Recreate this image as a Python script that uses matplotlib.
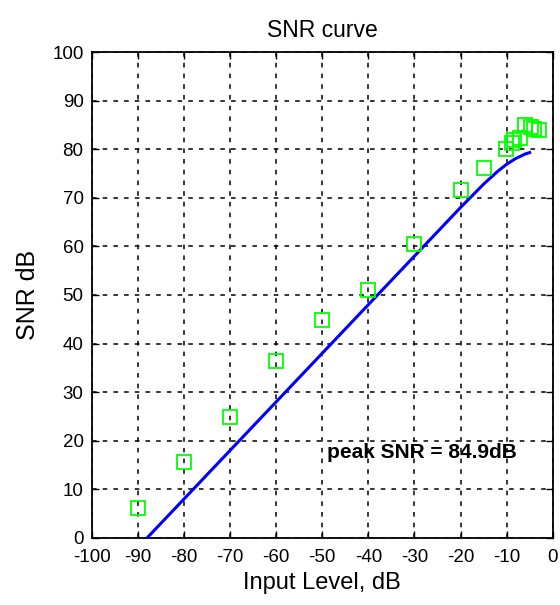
import numpy as np
import matplotlib
matplotlib.use("Agg")
import matplotlib.pyplot as plt

plt.rcParams['font.family'] = ['Liberation Sans', 'DejaVu Sans']
plt.rcParams['axes.unicode_minus'] = False

# measured SNR (green squares)
meas_x = [-90, -80, -70, -60, -50, -40, -30, -20, -15,
          -10.1, -8.9, -8.3, -7.0, -6.0, -4.7, -4.0, -2.9]
meas_y = [6.2, 15.6, 24.9, 36.4, 44.9, 51.0, 60.5, 71.6, 76.1,
          80.0, 81.2, 81.8, 82.3, 84.9, 84.6, 84.1, 83.9]

# theoretical SNR curve (blue line)
curve_x = [-88, -80, -70, -60, -50, -40, -30, -20, -15, -12, -10, -8, -6, -5]
curve_y = [0, 8, 18, 28, 38, 48, 58, 68, 72.8, 75.4, 76.9, 78.1, 79.0, 79.3]

xticks = list(range(-100, 1, 10))
yticks = list(range(0, 101, 10))
peak_label = 'peak SNR = 84.9dB'

fig = plt.figure(figsize=(5.6, 6.05), dpi=100)
ax = fig.add_axes([0.164, 0.111, 0.823, 0.803])

ax.plot(curve_x, curve_y, color='#0000ff', lw=2.2, zorder=3)
ax.plot(meas_x, meas_y, linestyle='none', marker='s', markersize=9.5,
        markerfacecolor='none', markeredgecolor='#00ff00', markeredgewidth=1.3, zorder=4)

ax.text(-49, 17.5, peak_label, fontsize=15, fontweight='bold', va='center', ha='left')

ax.set_xlim(-100, 0)
ax.set_ylim(0, 100)
ax.set_xticks(xticks)
ax.set_yticks(yticks)
ax.grid(True, color='black', linestyle=(0, (3, 4)), linewidth=1.1)
ax.tick_params(direction='in', length=5, width=1, top=True, right=True, labelsize=13.5)
ax.tick_params(axis='x', pad=8)
ax.tick_params(axis='y', pad=6)
for s in ax.spines.values():
    s.set_linewidth(1.3)

ax.set_title('SNR curve', fontsize=16.5, pad=11)
ax.set_xlabel('Input Level, dB', fontsize=17, labelpad=4)
ax.set_ylabel('SNR dB', fontsize=18, labelpad=9)

fig.savefig('out.png', dpi=100)
